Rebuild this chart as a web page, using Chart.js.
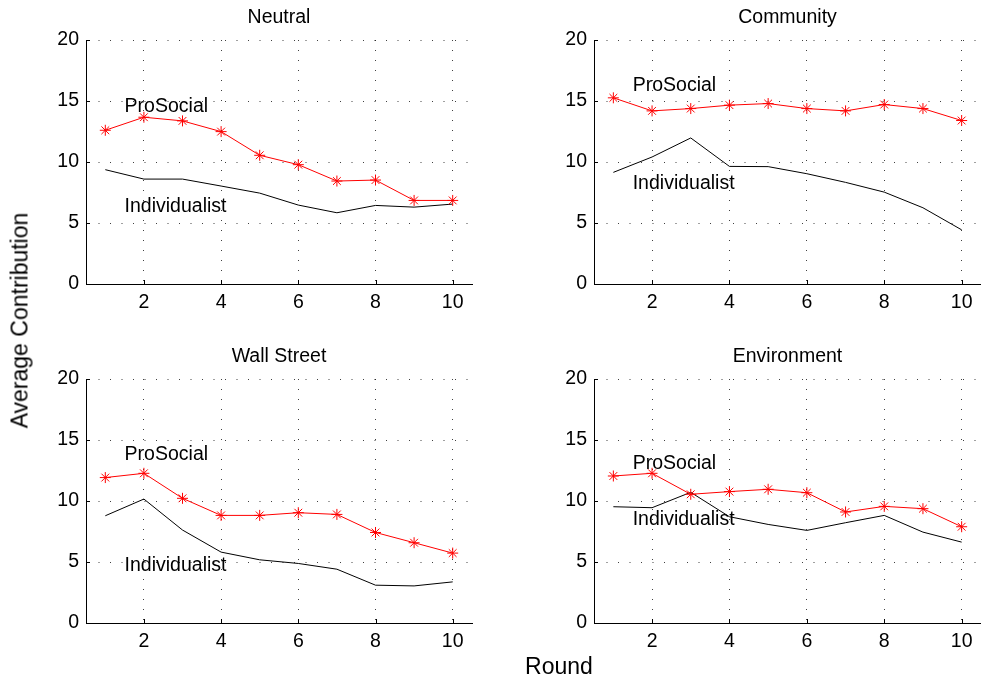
<!DOCTYPE html>
<html>
<head>
<meta charset="utf-8">
<script src="https://cdn.jsdelivr.net/npm/chart.js@4/dist/chart.umd.min.js"></script>
<style>
  html, body { margin: 0; padding: 0; background: #fff; overflow: hidden; }
  body { width: 981px; height: 679px; position: relative; font-family: "Liberation Sans", Arial, Helvetica, sans-serif; }
  canvas { position: absolute; }
  .axis-title { position: absolute; font-size: 23px; line-height: 23px; color: #000; text-align: center; white-space: nowrap; }
</style>
</head>
<body>
<canvas id="neutral" width="490" height="320" style="left:0;top:0"></canvas>
<canvas id="community" width="491" height="320" style="left:508px;top:0"></canvas>
<canvas id="wallstreet" width="490" height="320" style="left:0;top:339px"></canvas>
<canvas id="environment" width="491" height="320" style="left:508px;top:339px"></canvas>
<div class="axis-title" style="left:-130px;top:309px;width:300px;transform:rotate(-90deg)">Average Contribution</div>
<div class="axis-title" style="left:459px;top:655px;width:200px">Round</div>
<script>
// Rounds of the game
const rounds = [1, 2, 3, 4, 5, 6, 7, 8, 9, 10];
const roundTicks = [2, 4, 6, 8, 10];
const contributionTicks = [0, 5, 10, 15, 20];

// Panel titles
const panelTitles = ['Neutral', 'Community', 'Wall Street', 'Environment'];
const seriesNames = ['ProSocial', 'Individualist'];

// Average contribution per round
const neutralProSocial        = [12.6, 13.67, 13.37, 12.49, 10.55, 9.78, 8.44, 8.52, 6.85, 6.85];
const neutralIndividualist    = [9.37, 8.6, 8.6, 8.03, 7.45, 6.47, 5.84, 6.44, 6.3, 6.55];
const communityProSocial      = [15.26, 14.19, 14.38, 14.66, 14.79, 14.38, 14.19, 14.71, 14.38, 13.4];
const communityIndividualist  = [9.15, 10.41, 11.97, 9.64, 9.62, 9.04, 8.33, 7.53, 6.25, 4.44];
const wallStreetProSocial     = [11.92, 12.27, 10.22, 8.82, 8.82, 9.04, 8.9, 7.42, 6.58, 5.73];
const wallStreetIndividualist = [8.79, 10.16, 7.62, 5.81, 5.18, 4.88, 4.41, 3.1, 3.04, 3.37];
const environmentProSocial    = [12.05, 12.27, 10.55, 10.77, 10.96, 10.68, 9.1, 9.56, 9.37, 7.89];
const environmentIndividualist= [9.53, 9.45, 10.71, 8.71, 8.08, 7.59, 8.22, 8.82, 7.45, 6.63];

// Where each series name is written inside its panel (round, contribution)
const labelAnchors = [
  { pro: [1.5, 14.57], ind: [1.5, 6.36] },
  { pro: [1.5, 16.3],  ind: [1.5, 8.23] },
  { pro: [1.5, 13.8],  ind: [1.5, 4.7] },
  { pro: [1.5, 13.04], ind: [1.5, 8.5] }
];

const FONT = '"Liberation Sans", Arial, Helvetica, sans-serif';
const FONT_SIZE = 19.5;

// Title, series names and inward tick marks
const panelDecor = {
  id: 'panelDecor',
  afterDraw(chart, args, opts) {
    const { ctx, chartArea: a, scales: { x, y } } = chart;
    ctx.save();
    ctx.fillStyle = '#000';
    ctx.font = FONT_SIZE + 'px ' + FONT;
    ctx.textAlign = 'center';
    ctx.textBaseline = 'middle';
    ctx.fillText(opts.title, (a.left + a.right) / 2, a.top - 22);

    ctx.textAlign = 'left';
    ctx.fillText(seriesNames[0], x.getPixelForValue(opts.anchors.pro[0]), y.getPixelForValue(opts.anchors.pro[1]));
    ctx.fillText(seriesNames[1], x.getPixelForValue(opts.anchors.ind[0]), y.getPixelForValue(opts.anchors.ind[1]));

    ctx.strokeStyle = '#000';
    ctx.lineWidth = 1;
    ctx.beginPath();
    roundTicks.forEach(v => {
      const px = Math.round(x.getPixelForValue(v)) + 0.5;
      ctx.moveTo(px, a.bottom);
      ctx.lineTo(px, a.bottom - 4);
    });
    contributionTicks.forEach(v => {
      const py = Math.round(y.getPixelForValue(v)) + 0.5;
      ctx.moveTo(a.left, py);
      ctx.lineTo(a.left + 4, py);
    });
    ctx.stroke();
    ctx.restore();
  }
};

function makePanel(id, idx, pro, ind) {
  new Chart(document.getElementById(id), {
    type: 'line',
    data: {
      datasets: [
        {
          label: seriesNames[0],
          data: rounds.map((r, i) => ({ x: r, y: pro[i] })),
          borderColor: '#ff0000',
          borderWidth: 1,
          pointStyle: 'star',
          pointRadius: 5.5,
          pointBorderColor: '#ff0000',
          pointBorderWidth: 1,
          pointBackgroundColor: '#ff0000',
          tension: 0,
          fill: false
        },
        {
          label: seriesNames[1],
          data: rounds.map((r, i) => ({ x: r, y: ind[i] })),
          borderColor: '#000000',
          borderWidth: 1,
          pointRadius: 0,
          tension: 0,
          fill: false
        }
      ]
    },
    options: {
      responsive: false,
      animation: false,
      devicePixelRatio: 1,
      layout: { padding: { top: 40, right: 18, bottom: 0, left: 0 } },
      plugins: {
        legend: { display: false },
        tooltip: { enabled: false },
        title: { display: false },
        panelDecor: { title: panelTitles[idx], anchors: labelAnchors[idx] }
      },
      scales: {
        x: {
          type: 'linear',
          min: 0.5,
          max: 10.5,
          afterBuildTicks: s => { s.ticks = roundTicks.map(v => ({ value: v })); },
          afterFit: s => { s.height = 36; },
          ticks: { color: '#000', padding: 7, font: { family: FONT, size: FONT_SIZE }, maxRotation: 0, autoSkip: false },
          grid: { color: 'rgba(0,0,0,0.75)', lineWidth: 1, drawTicks: false },
          border: { display: true, color: '#000', width: 1, dash: [1, 9] }
        },
        y: {
          type: 'linear',
          min: 0,
          max: 20,
          afterBuildTicks: s => { s.ticks = contributionTicks.map(v => ({ value: v })); },
          afterFit: s => { s.width = 86; },
          ticks: { color: '#000', padding: 7, font: { family: FONT, size: FONT_SIZE } },
          grid: { color: 'rgba(0,0,0,0.75)', lineWidth: 1, drawTicks: false },
          border: { display: true, color: '#000', width: 1, dash: [1, 10.5] }
        }
      }
    },
    plugins: [panelDecor]
  });
}

makePanel('neutral', 0, neutralProSocial, neutralIndividualist);
makePanel('community', 1, communityProSocial, communityIndividualist);
makePanel('wallstreet', 2, wallStreetProSocial, wallStreetIndividualist);
makePanel('environment', 3, environmentProSocial, environmentIndividualist);
</script>
</body>
</html>
